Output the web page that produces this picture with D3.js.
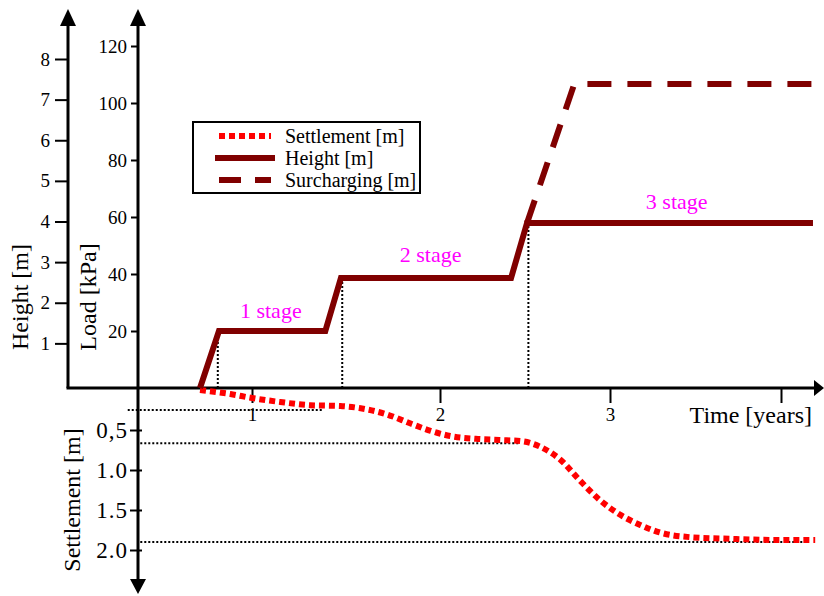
<!DOCTYPE html>
<html>
<head>
<meta charset="utf-8">
<script src="https://cdn.jsdelivr.net/npm/d3@7"></script>
<style>
  body { margin: 0; background: #fff; }
  svg { display: block; }
  .axis line { stroke: #000; stroke-width: 2; }
  .axis .domain { display: none; }
</style>
</head>
<body>
<svg id="chart"></svg>
<script>
const serif = '"Liberation Serif", "Times New Roman", Times, serif';

// Time [years] vs load [kPa] for the fill line and surcharge
const heightSeries = [
  { t: 0.544, load: 0 },
  { t: 0.71, load: 20 },
  { t: 1.39, load: 20 },
  { t: 1.473, load: 38.6 },
  { t: 2.418, load: 38.6 },
  { t: 2.512, load: 57.9 },
  { t: 4.187, load: 57.9 }
];
const surchargeSeries = [
  { t: 2.512, load: 57.9 },
  { t: 2.79, load: 106.7 },
  { t: 4.26, load: 106.7 }
];
// Time [years] vs settlement [m]
const settlementSeries = [
  { t: 0.544, s: 0.0 },
  { t: 0.81, s: 0.05 },
  { t: 1.0, s: 0.10 },
  { t: 1.15, s: 0.15 },
  { t: 1.31, s: 0.19 },
  { t: 1.47, s: 0.20 },
  { t: 1.57, s: 0.225 },
  { t: 1.71, s: 0.30 },
  { t: 1.85, s: 0.425 },
  { t: 1.95, s: 0.51 },
  { t: 2.06, s: 0.575 },
  { t: 2.21, s: 0.61 },
  { t: 2.35, s: 0.625 },
  { t: 2.48, s: 0.64 },
  { t: 2.59, s: 0.71 },
  { t: 2.71, s: 0.875 },
  { t: 2.82, s: 1.125 },
  { t: 2.94, s: 1.375 },
  { t: 3.06, s: 1.56 },
  { t: 3.18, s: 1.69 },
  { t: 3.29, s: 1.78 },
  { t: 3.47, s: 1.84 },
  { t: 3.70, s: 1.86 },
  { t: 3.99, s: 1.875 },
  { t: 4.20, s: 1.875 }
];
// dotted guide lines: settlement level at end of each stage
const settleGuides = [
  { s: 0.25, t0: -0.09, t1: 1.38 },
  { s: 0.665, t0: 0.02, t1: 2.47 },
  { s: 1.9, t0: 0.02, t1: 4.15 }
];
// dotted drops from the start of each stage plateau
const stageDrops = [
  { t: 0.70, load: 20 },
  { t: 1.48, load: 38.6 },
  { t: 2.52, load: 57.9 }
];
const stageLabels = [
  { text: '1 stage', t: 1.10, load: 24.6 },
  { text: '2 stage', t: 1.95, load: 44.2 },
  { text: '3 stage', t: 3.39, load: 62.8 }
];
const timeTicks = [1, 2, 3, 4];
const timeTickLabels = ['1', '2', '3', ''];
const heightTicks = [1, 2, 3, 4, 5, 6, 7, 8];
const loadTicks = [20, 40, 60, 80, 100, 120];
const settleTicks = [0.5, 1.0, 1.5, 2.0];
const settleTickLabels = ['0,5', '1.0', '1.5', '2.0'];
const legendItems = [
  { label: 'Settlement [m]', color: '#ff0000', dash: '6,4' },
  { label: 'Height [m]', color: '#800000', dash: null },
  { label: 'Surcharging [m]', color: '#800000', dash: '22,14' }
];

const width = 824, height = 596;
const svg = d3.select('#chart')
  .attr('width', width).attr('height', height);

// Scales (the hand-drawn time axis is not evenly spaced)
const xScale = d3.scaleLinear().domain([0, 1, 2, 3, 4]).range([138, 252, 440, 610, 781]);
const loadScale = d3.scaleLinear().domain([0, 120]).range([388, 46]);
const heightScale = d3.scaleLinear().domain([0, 8]).range([384, 59]);
const settleScale = d3.scaleLinear().domain([0, 2]).range([390, 550]);

const baseY = loadScale(0);
const heightAxisX = 68, loadAxisX = xScale(0);

// Axes
const heightAxisG = svg.append('g')
  .attr('class', 'axis')
  .attr('transform', `translate(${heightAxisX},0)`)
  .call(d3.axisLeft(heightScale).tickValues(heightTicks).tickSize(13).tickPadding(5));

const loadAxisG = svg.append('g')
  .attr('class', 'axis')
  .attr('transform', `translate(${loadAxisX},0)`)
  .call(d3.axisLeft(loadScale).tickValues(loadTicks).tickSize(7).tickPadding(4));

const settleAxisG = svg.append('g')
  .attr('class', 'axis')
  .attr('transform', `translate(${loadAxisX + 4},0)`)
  .call(d3.axisLeft(settleScale).tickValues(settleTicks).tickSize(12).tickPadding(2)
    .tickFormat((d, i) => settleTickLabels[i]));

const timeAxisG = svg.append('g')
  .attr('class', 'axis')
  .attr('transform', `translate(0,${baseY})`)
  .call(d3.axisBottom(xScale).tickValues(timeTicks).tickSize(15).tickPadding(5)
    .tickFormat((d, i) => timeTickLabels[i]));

heightAxisG.selectAll('text').attr('font-size', 19).attr('fill', '#000');
loadAxisG.selectAll('text').attr('font-size', 19).attr('fill', '#000');
settleAxisG.selectAll('text').attr('font-size', 23).attr('letter-spacing', 1).attr('fill', '#000');
timeAxisG.selectAll('text').attr('font-size', 19).attr('fill', '#000');

// Axis lines with arrow heads
const axisLines = svg.append('g').attr('stroke', '#000').attr('stroke-width', 3).attr('fill', 'none');
axisLines.append('line').attr('x1', heightAxisX).attr('x2', heightAxisX).attr('y1', baseY).attr('y2', 22);
axisLines.append('line').attr('x1', heightAxisX - 1.5).attr('x2', 816).attr('y1', baseY).attr('y2', baseY);
axisLines.append('line').attr('x1', loadAxisX).attr('x2', loadAxisX).attr('y1', 22).attr('y2', 582);

const arrows = svg.append('g').attr('fill', '#000');
arrows.append('path').attr('d', `M${heightAxisX},9 L${heightAxisX - 8},26 L${heightAxisX + 8},26 Z`);
arrows.append('path').attr('d', `M${loadAxisX},9 L${loadAxisX - 8},26 L${loadAxisX + 8},26 Z`);
arrows.append('path').attr('d', `M824,${baseY} L814,${baseY - 8} L814,${baseY + 8} Z`);
arrows.append('path').attr('d', `M${loadAxisX},594 L${loadAxisX - 8},579 L${loadAxisX + 8},579 Z`);

// Axis titles
const titles = svg.append('g').attr('fill', '#000').attr('font-size', 24);
titles.append('text').attr('transform', 'translate(28,297) rotate(-90)')
  .attr('text-anchor', 'middle').text('Height [m]');
titles.append('text').attr('transform', 'translate(96,297) rotate(-90)')
  .attr('text-anchor', 'middle').text('Load [kPa]');
titles.append('text').attr('transform', 'translate(80,500) rotate(-90)')
  .attr('text-anchor', 'middle').text('Settlement [m]');
titles.append('text').attr('x', 812).attr('y', 423)
  .attr('text-anchor', 'end').text('Time [years]');

// Dotted guide lines
const guides = svg.append('g')
  .attr('stroke', '#000').attr('stroke-width', 2).attr('stroke-dasharray', '2,2');
guides.selectAll('.settle-guide')
  .data(settleGuides)
  .join('line')
  .attr('class', 'settle-guide')
  .attr('x1', d => xScale(d.t0)).attr('x2', d => xScale(d.t1))
  .attr('y1', d => settleScale(d.s)).attr('y2', d => settleScale(d.s));
guides.selectAll('.stage-drop')
  .data(stageDrops)
  .join('line')
  .attr('class', 'stage-drop')
  .attr('x1', d => xScale(d.t)).attr('x2', d => xScale(d.t))
  .attr('y1', baseY).attr('y2', d => loadScale(d.load));

// Series
const loadLine = d3.line().x(d => xScale(d.t)).y(d => loadScale(d.load));
const settleLine = d3.line().x(d => xScale(d.t)).y(d => settleScale(d.s)).curve(d3.curveMonotoneX);

svg.append('path')
  .datum(settlementSeries)
  .attr('fill', 'none').attr('stroke', '#ff0000').attr('stroke-width', 6)
  .attr('stroke-dasharray', '6,4')
  .attr('d', settleLine);

svg.append('path')
  .datum(surchargeSeries)
  .attr('fill', 'none').attr('stroke', '#800000').attr('stroke-width', 6)
  .attr('stroke-dasharray', '24,16')
  .attr('d', loadLine);

svg.append('path')
  .datum(heightSeries)
  .attr('fill', 'none').attr('stroke', '#800000').attr('stroke-width', 6)
  .attr('stroke-linejoin', 'miter')
  .attr('d', loadLine);

// Stage labels
svg.append('g').selectAll('text')
  .data(stageLabels)
  .join('text')
  .attr('x', d => xScale(d.t)).attr('y', d => loadScale(d.load))
  .attr('text-anchor', 'middle').attr('font-size', 22).attr('fill', '#ff00ff')
  .text(d => d.text);

// Legend
const legend = svg.append('g').attr('transform', 'translate(193,122)');
legend.append('rect')
  .attr('width', 227).attr('height', 71)
  .attr('fill', '#fff').attr('stroke', '#000').attr('stroke-width', 2);
const legendRows = legend.selectAll('.legend-row')
  .data(legendItems)
  .join('g')
  .attr('class', 'legend-row')
  .attr('transform', (d, i) => `translate(0,${14 + i * 22})`);
legendRows.append('line')
  .attr('x1', (d, i) => i === 1 ? 22 : 26).attr('x2', (d, i) => i === 1 ? 82 : 78)
  .attr('y1', 0).attr('y2', 0)
  .attr('stroke', d => d.color).attr('stroke-width', 6)
  .attr('stroke-dasharray', d => d.dash);
legendRows.append('text')
  .attr('x', 92).attr('y', 7)
  .attr('font-size', 20).attr('fill', '#000')
  .text(d => d.label);

// every label in the serif face
svg.selectAll('text').style('font-family', serif);
</script>
</body>
</html>
